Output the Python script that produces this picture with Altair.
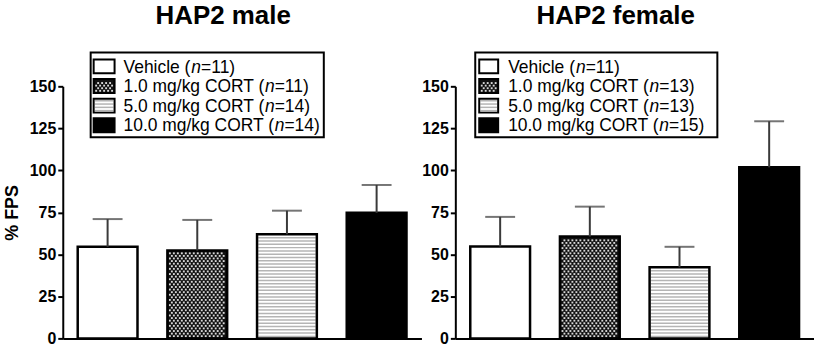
import altair as alt
import pandas as pd

# ---------------- data ----------------
groups = ["Vehicle", "1.0 mg/kg CORT", "5.0 mg/kg CORT", "10.0 mg/kg CORT"]
male_mean = [54.5, 52.3, 62.0, 74.7]
male_sem = [16.5, 18.2, 14.0, 16.6]
male_n = [11, 11, 14, 14]
female_mean = [54.7, 60.6, 42.3, 101.8]
female_sem = [17.6, 17.8, 12.2, 27.4]
female_n = [11, 13, 13, 15]
panel_titles = ["HAP2 male", "HAP2 female"]
y_title = "% FPS"
y_ticks = [0, 25, 50, 75, 100, 125, 150]

# ---------------- styles ----------------
fills = ["white", "#111111", "white", "black"]
textures = ["none", "checker", "stripes", "none"]

W, H = 360, 253
YMAX = 150
SX = W / 4.0
SY = H / YMAX
FONT = "Liberation Sans"
LEG_FS = 17.5
ROW0, ROWSTEP = -20.0, 19.7  # legend row centers, px relative to plot top

AW = {' ': 278, '(': 333, ')': 333, '.': 278, '/': 278, '=': 584,
      'C': 722, 'O': 778, 'R': 722, 'T': 611, 'V': 667, 'c': 500, 'e': 556,
      'g': 556, 'h': 556, 'i': 222, 'k': 500, 'l': 222, 'm': 833, 'n': 556}
for d in "0123456789":
    AW[d] = 556


def text_w(s, fs):
    return sum(AW.get(ch, 556) for ch in s) * fs / 1000.0


def checker_layer(ch, X, Y):
    return ch.transform_filter("datum.tex == 'checker'").transform_calculate(
        c=f"sequence(0, floor((datum.rx1 - datum.rx0) * {SX} / 4) + 1)"
    ).transform_flatten(["c"]).transform_calculate(
        r=f"sequence(0, floor((datum.ry1 - datum.ry0) * {SY} / 2.6) + 1)"
    ).transform_flatten(["r"]).transform_calculate(
        px=f"datum.rx0 + (datum.c * 4 + 2.5 + (datum.r % 2) * 2) / {SX}",
        py=f"datum.ry0 + (datum.r * 2.6 + 2.2) / {SY}",
    ).transform_filter(
        f"datum.px < datum.rx1 - 1.6 / {SX} && datum.py < datum.ry1 - 1.6 / {SY}"
    ).mark_square(size=3.6, color="#d8d8d8", opacity=1, strokeWidth=0).encode(
        x=X("px:Q"), y=Y("py:Q"))


def stripe_layer(ch, X, Y):
    return ch.transform_filter("datum.tex == 'stripes'").transform_calculate(
        k=f"sequence(0, floor((datum.ry1 - datum.ry0) * {SY} / 3.3) + 1)"
    ).transform_flatten(["k"]).transform_calculate(
        py=f"datum.ry0 + (datum.k * 3.3 + 2.0) / {SY}",
        sx0=f"datum.rx0 + 1.2 / {SX}",
        sx1=f"datum.rx1 - 1.2 / {SX}",
    ).transform_filter(f"datum.py < datum.ry1 - 1.2 / {SY}").mark_rule(
        color="#b4b4b4", strokeWidth=1.5).encode(
        x=X("sx0:Q"), x2="sx1:Q", y=Y("py:Q"))


def panel(title, means, sems, ns, show_ytitle, sw_x0, sw_x1, tx, box_x0, box_x1):
    df = pd.DataFrame({"i": list(range(4)), "group": groups, "mean": means,
                       "sem": sems, "n": ns, "fill": fills, "tex": textures})
    xs = alt.Scale(domain=[0, 4], nice=False, zero=False)
    ys = alt.Scale(domain=[0, YMAX], nice=False, zero=False)

    xaxis = alt.Axis(labels=False, ticks=False, title=None, grid=False,
                     domainColor="black", domainWidth=2)
    yaxis = alt.Axis(values=y_ticks, grid=False, domainColor="black", domainWidth=2,
                     tickColor="black", tickWidth=2, tickSize=5, labelPadding=2,
                     labelFont=FONT, labelFontSize=16, labelFontWeight="bold",
                     labelColor="black",
                     title=y_title if show_ytitle else None,
                     titleFont=FONT, titleFontSize=18, titleFontWeight="bold",
                     titleColor="black", titlePadding=8)

    def X(f):
        return alt.X(f, scale=xs, axis=xaxis, title=None)

    def Y(f):
        return alt.Y(f, scale=ys, axis=yaxis, title=y_title if show_ytitle else None)

    base = alt.Chart(df)
    bars = base.transform_calculate(rx0="datum.i + 1/6", rx1="datum.i + 5/6",
                                    ry0="0", ry1="datum.mean")
    bar_fill = bars.mark_rect(strokeWidth=0).encode(
        x=X("rx0:Q"), x2="rx1:Q", y=Y("ry1:Q"), y2="ry0:Q",
        fill=alt.Fill("fill:N", scale=None))
    bar_outline = bars.mark_rect(filled=False, color="black", strokeWidth=2.5).encode(
        x=X("rx0:Q"), x2="rx1:Q", y=Y("ry1:Q"), y2="ry0:Q")

    err = base.transform_calculate(cx="datum.i + 0.5", top="datum.mean + datum.sem")
    err_line = err.mark_rule(color="#3a3a3a", strokeWidth=2).encode(
        x=X("cx:Q"), y=Y("mean:Q"), y2="top:Q")
    err_cap = err.mark_tick(orient="horizontal", size=30, thickness=2, color="#3a3a3a").encode(
        x=X("cx:Q"), y=Y("top:Q"))

    # legend
    box = alt.Chart(pd.DataFrame({"b": [0]})).mark_rect(
        fill="white", stroke="black", strokeWidth=2).encode(
        x=alt.value(box_x0), x2=alt.value(box_x1), y=alt.value(-34), y2=alt.value(51))
    leg = base.transform_calculate(
        rx0=f"{sw_x0} / {SX}", rx1=f"{sw_x1} / {SX}",
        ry1=f"{YMAX} - ({ROW0} + datum.i * {ROWSTEP} - 7) / {SY}",
        ry0=f"{YMAX} - ({ROW0} + datum.i * {ROWSTEP} + 7) / {SY}")
    sw_fill = leg.mark_rect(strokeWidth=0).encode(
        x=X("rx0:Q"), x2="rx1:Q", y=Y("ry1:Q"), y2="ry0:Q",
        fill=alt.Fill("fill:N", scale=None))
    sw_outline = leg.mark_rect(filled=False, color="black", strokeWidth=2).encode(
        x=X("rx0:Q"), x2="rx1:Q", y=Y("ry1:Q"), y2="ry0:Q")

    rows = []
    for i, (g, n) in enumerate(zip(groups, ns)):
        pre = f"{g} ("
        suf = f"={n})"
        x_pre = tx
        x_n = tx + text_w(pre, LEG_FS)
        x_suf = x_n + text_w("n", LEG_FS)
        yb = YMAX - (ROW0 + i * ROWSTEP + 6.2) / SY
        rows.append({"t": pre, "x": x_pre / SX, "y": yb, "st": "normal"})
        rows.append({"t": "n", "x": x_n / SX, "y": yb, "st": "italic"})
        rows.append({"t": suf, "x": x_suf / SX, "y": yb, "st": "normal"})
    ldf = pd.DataFrame(rows)
    leg_norm = alt.Chart(ldf).transform_filter("datum.st == 'normal'").mark_text(
        align="left", baseline="alphabetic", font=FONT, fontSize=LEG_FS, color="black").encode(
        x=X("x:Q"), y=Y("y:Q"), text="t:N")
    leg_it = alt.Chart(ldf).transform_filter("datum.st == 'italic'").mark_text(
        align="left", baseline="alphabetic", font=FONT, fontSize=LEG_FS, fontStyle="italic",
        color="black").encode(x=X("x:Q"), y=Y("y:Q"), text="t:N")

    ttl = alt.Chart(pd.DataFrame({"t": [title]})).mark_text(
        align="center", baseline="alphabetic", font=FONT, fontSize=26,
        fontWeight="bold", color="black").encode(
        x=alt.value(161), y=alt.value(-63), text="t:N")

    return alt.layer(
        bar_fill, checker_layer(bars, X, Y), stripe_layer(bars, X, Y), bar_outline,
        err_line, err_cap,
        box, sw_fill, checker_layer(leg, X, Y), stripe_layer(leg, X, Y), sw_outline,
        leg_norm, leg_it, ttl,
    ).properties(width=W, height=H)


left = panel(panel_titles[0], male_mean, male_sem, male_n, True, 31, 52, 61, 28, 262)
right = panel(panel_titles[1], female_mean, female_sem, female_n, False, 24, 43, 53, 20, 263)

chart = alt.hconcat(left, right, spacing=0).configure_view(stroke=None).properties(
    padding={"left": 3, "top": 2, "right": 0, "bottom": 0},
    background="white")

chart.save("out.html", embed_options={"renderer": "svg", "actions": False})
